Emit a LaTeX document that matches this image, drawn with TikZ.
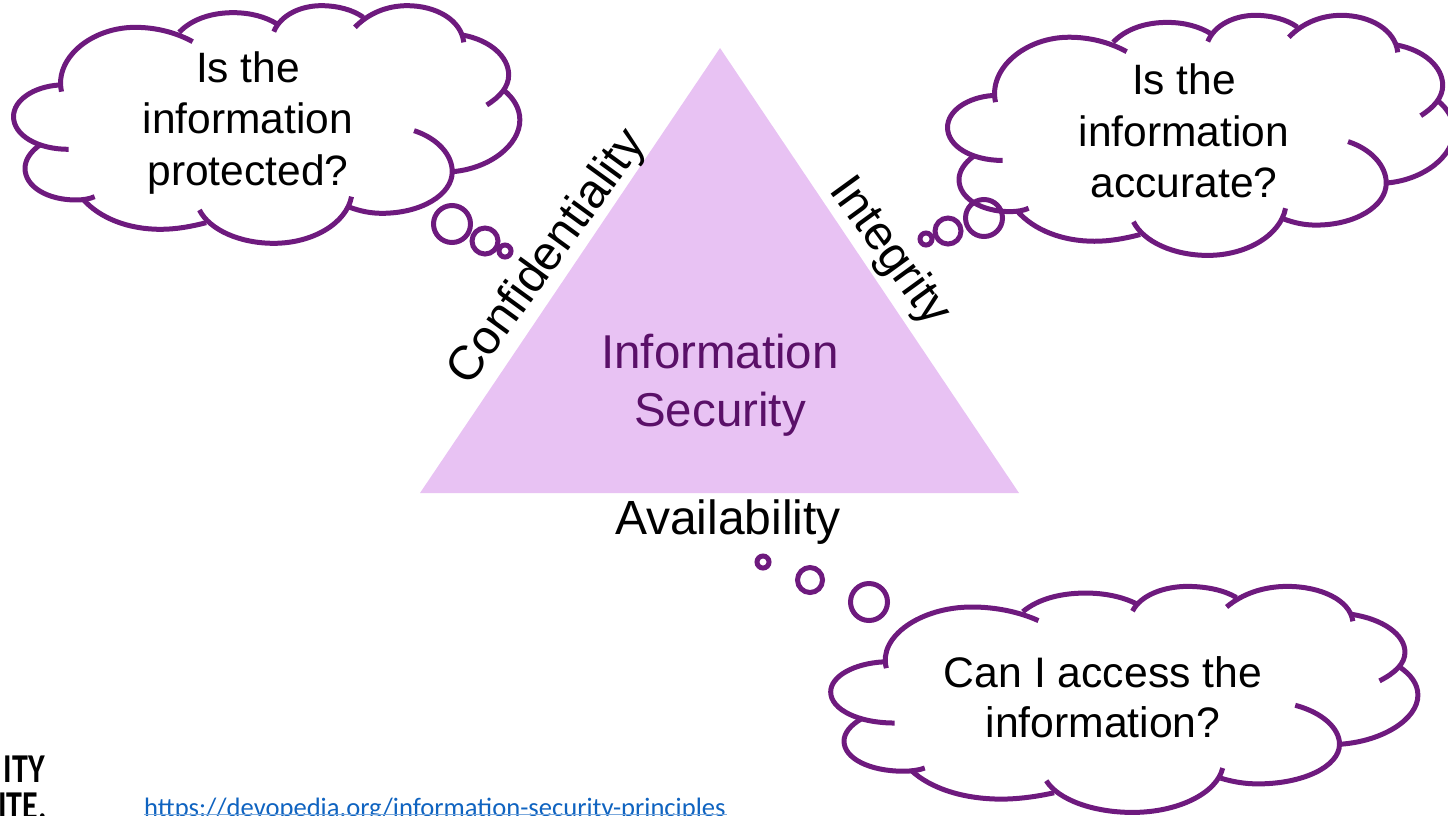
\documentclass[tikz,border=0pt]{standalone}
\usepackage{fontspec}
\setmainfont{Liberation Sans}
\newfontfamily\linkfont{Carlito}
\definecolor{cloudpurple}{HTML}{6E1A7E}
\definecolor{trifill}{HTML}{E8C2F3}
\definecolor{tritext}{HTML}{5A1068}
\definecolor{linkblue}{HTML}{0F63C0}
\newcommand{\cloudlobes}{%
 \draw[cloudline] (182,275) .. controls (160,175) and (270,82) .. (400,82) .. controls (460,82) and (520,97) .. (570,125);
 \draw[cloudline] (530,97) .. controls (570,55) and (630,38) .. (690,38) .. controls (740,38) and (785,50) .. (820,72);
 \draw[cloudline] (810,95) .. controls (830,45) and (890,17) .. (950,17) .. controls (1000,17) and (1045,30) .. (1075,52);
 \draw[cloudline] (1050,82) .. controls (1090,40) and (1145,17) .. (1205,17) .. controls (1290,17) and (1365,60) .. (1372,127);
 \draw[cloudline] (1368,105) .. controls (1450,120) and (1505,170) .. (1505,225) .. controls (1505,260) and (1480,290) .. (1440,315);
 \draw[cloudline] (1490,270) .. controls (1520,295) and (1538,325) .. (1538,360) .. controls (1538,435) and (1450,505) .. (1340,515);
 \draw[cloudline] (1225,392) .. controls (1295,415) and (1338,465) .. (1338,515) .. controls (1338,585) and (1245,640) .. (1130,640) .. controls (1095,640) and (1065,633) .. (1035,622);
 \draw[cloudline] (1040,590) .. controls (1025,670) and (925,730) .. (810,730) .. controls (710,730) and (620,690) .. (590,630);
 \draw[cloudline] (610,668) .. controls (565,680) and (520,688) .. (475,688) .. controls (380,688) and (295,655) .. (245,597);
 \draw[cloudline] (280,590) .. controls (265,597) and (245,600) .. (225,600) .. controls (140,600) and (74,560) .. (74,505) .. controls (74,480) and (90,455) .. (118,435);
 \draw[cloudline] (203,448) .. controls (110,448) and (40,405) .. (40,350) .. controls (40,300) and (100,260) .. (175,255);
}
\tikzset{
 cloudline/.style={draw=cloudpurple,line width=5pt},
 bubble/.style={circle,draw=cloudpurple,line width=5pt,inner sep=0pt,fill=none},
 cloudtext/.style={align=center,inner sep=0pt,text=black,font=\fontsize{42.5}{51.5}\selectfont},
 edgetext/.style={inner sep=0pt,text=black,font=\fontsize{48}{58}\selectfont},
 logotext/.style={anchor=base east,inner sep=0pt,text=black,font=\linkfont\bfseries\fontsize{41}{44}\selectfont,xscale=.78},
}
\begin{document}
\begin{tikzpicture}[x=1pt,y=-1pt]
\useasboundingbox (0,0) rectangle (1448,815);
\fill[trifill] (720,48) -- (1019,493) -- (420,493) -- cycle;
\node[align=center,inner sep=0pt,text=tritext,font=\fontsize{47.5}{57.5}\selectfont] (center) at (720,385) {Information\\Security};
\node[edgetext,rotate=54] (conf) at (548,258) {Confidentiality};
\node[edgetext,rotate=-54] (integ) at (889,252) {Integrity};
\node[edgetext] (avail) at (728,522) {Availability};
% cloud 1
\begin{scope}[x=0.338pt,y=-0.3333pt]\cloudlobes\end{scope}
\node[cloudtext] (c1) at (248,123) {Is the\\information\\protected?};
\node[bubble,minimum size=37pt] (b11) at (452,224) {};
\node[bubble,minimum size=26pt] (b12) at (485,241) {};
\node[bubble,minimum size=12pt] (b13) at (505,251) {};
% cloud 2
\begin{scope}[shift={(934,9.6)},x=0.338pt,y=-0.3367pt]\cloudlobes\end{scope}
\node[cloudtext] (c2) at (1184,131) {Is the\\information\\accurate?};
\node[bubble,minimum size=37pt] (b21) at (984,218) {};
\node[bubble,minimum size=26pt] (b22) at (948,231) {};
\node[bubble,minimum size=12pt] (b23) at (926,239) {};
% cloud 3
\begin{scope}[shift={(815,581)},x=0.392pt,y=-0.317pt]\cloudlobes\end{scope}
\node[cloudtext,font=\fontsize{42.7}{50}\selectfont] (c3) at (1103,697) {Can I access the\\information?};
\node[bubble,minimum size=37pt] (b31) at (869,602) {};
\node[bubble,minimum size=25pt] (b32) at (810,580) {};
\node[bubble,minimum size=12pt] (b33) at (763,562) {};
% footer
\node[anchor=base west,inner sep=0pt,text=linkblue,font=\linkfont\fontsize{26.6}{30}\selectfont] (link) at (144,816) {https://devopedia.org/information-security-principles};
\draw[linkblue!55,line width=1pt] (link.base west) ++(0,-2) -- ++(583,0);
\node[logotext] (logo1) at (45,782) {ITY};
\node[logotext] (logo2) at (47,819) {ITE.};
\end{tikzpicture}
\end{document}
